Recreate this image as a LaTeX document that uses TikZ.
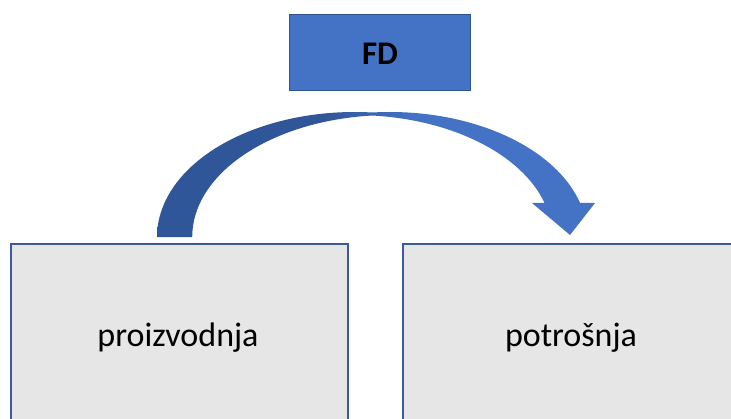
\documentclass[tikz,border=0pt]{standalone}
\usepackage{fontspec}
\setmainfont{Carlito}
\definecolor{boxfill}{HTML}{E6E6E6}
\definecolor{boxedge}{HTML}{3A5A98}
\definecolor{fdfill}{HTML}{4472C4}
\definecolor{fdedge}{HTML}{2F528F}
\definecolor{arrowdark}{HTML}{30569A}
\definecolor{arrowlight}{HTML}{4472C4}
% left-to-right fill of the curved arrow: dark rear half, light front half
\pgfdeclarehorizontalshading{arrowshade}{100bp}{color(0bp)=(arrowdark); color(25bp)=(arrowdark); color(44bp)=(arrowdark); color(54bp)=(arrowlight); color(75bp)=(arrowlight); color(100bp)=(arrowlight)}
\tikzset{
  stagebox/.style={draw=boxedge, line width=1.5pt, fill=boxfill},
  fdbox/.style={draw=fdedge, line width=0.8pt, fill=fdfill},
  stagelabel/.style={anchor=base, inner sep=0pt, font=\fontsize{34}{40}\selectfont},
  fdlabel/.style={anchor=base, inner sep=0pt, font=\fontsize{33}{40}\selectfont\bfseries}
}
\begin{document}
\begin{tikzpicture}[x=1pt, y=1pt]
  \useasboundingbox (0,0) rectangle (731,418);
  \clip (0,0) rectangle (731,418);

  % production and consumption boxes (running off the lower and right edges)
  \draw[stagebox] (11,-10) rectangle (348,174);
  \draw[stagebox] (403,-10) rectangle (745,174);
  \node[stagelabel] (prod) at (178,72) {proizvodnja};
  \node[stagelabel] (cons) at (571,72) {potrošnja};

  % FD box
  \draw[fdbox] (289,328) rectangle (470,403.5);
  \node[fdlabel] (fd) at (380,353) {FD};

  % curved arrow from production over to consumption
  \shade[shading=arrowshade]
    (157,181)
    arc[start angle=180, end angle=84.9, x radius=197.7, y radius=125]
    arc[start angle=95.1, end angle=15.8, x radius=197.7, y radius=125]
    -- (595,215) -- (570,183) -- (532,215) -- (544.6,215)
    arc[start angle=16.2, end angle=84.9, x radius=197.7, y radius=122]
    arc[start angle=95.1, end angle=180, x radius=197.7, y radius=122]
    -- cycle;
\end{tikzpicture}
\end{document}
